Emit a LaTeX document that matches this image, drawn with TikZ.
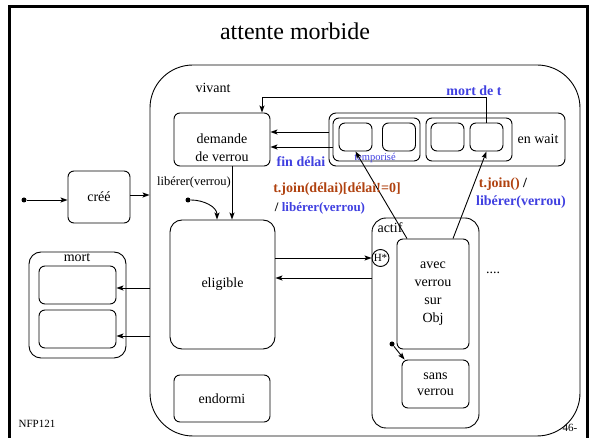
\documentclass[tikz,border=0pt]{standalone}
\usepackage{fontspec}
\setmainfont{Liberation Serif}
\usepackage{tikz}
\usetikzlibrary{arrows.meta}
\definecolor{bleuev}{RGB}{64,64,224}
\definecolor{brique}{RGB}{176,66,16}

\begin{document}
\begin{tikzpicture}[x=1pt,y=-1pt,line width=0.9pt,
  >={Stealth[length=7pt,width=5pt,inset=1.5pt]},
  etat/.style={draw,rounded corners=6pt,inner sep=0pt,align=center,font=\fontsize{14}{18}\selectfont},
  txt/.style={inner sep=0pt,font=\fontsize{14}{18}\selectfont},
  evt/.style={inner sep=0pt,font=\bfseries\fontsize{14}{17}\selectfont,text=bleuev},
  act/.style={inner sep=0pt,font=\bfseries\fontsize{14}{17}\selectfont,text=brique},
  debut/.style={circle,fill,inner sep=0pt,minimum size=5pt}]
  \useasboundingbox (0,0) rectangle (590,438);
  \draw[line width=3pt] (9,445) -- (9,7) -- (587,7) -- (587,445);
  \node[font=\fontsize{24}{28}\selectfont] (titre) at (295,31) {attente morbide};

  \node[etat,rounded corners=43pt,minimum width=430,minimum height=371] (vivant) at (365,250.5) {};
  \node[txt] (lvivant) at (213,88) {vivant};

  \node[etat,minimum width=96,minimum height=53,
    label={[txt,align=center,yshift=-8.5pt]center:demande\\de verrou}] (demande) at (222,139.5) {};
  \node[etat,rounded corners=7pt,minimum width=236,minimum height=53] (enwait) at (447,139.5) {};
  \node[etat,minimum width=87,minimum height=43] (tempo) at (376.5,139.5) {};
  \node[etat,minimum width=86,minimum height=43] (join) at (469,139.5) {};
  \node[etat,minimum width=33,minimum height=28] (t1) at (355.5,137) {};
  \node[etat,minimum width=33,minimum height=28] (t2) at (399,137) {};
  \node[etat,minimum width=33,minimum height=28] (t3) at (447.5,137) {};
  \node[etat,minimum width=33,minimum height=28] (t4) at (486.5,137) {};
  \node[txt] (lwait) at (538,139) {en wait};
  \node[inner sep=0pt,text=bleuev,font=\fontsize{10.5}{12}\selectfont] (ltempo) at (375,158) {temporisé};
  \node[evt] (lmort) at (474,91) {mort de t};
  \node[evt] (lfin) at (301,162) {fin délai};
  \draw[->] (t4.north) -- ++(0,-25) -| ([xshift=40pt]demande.north);
  \draw[->] ([yshift=7.5pt]enwait.west) -- ([yshift=7.5pt]demande.east);
  \draw[->] ([yshift=-7.5pt]tempo.west) -- ([yshift=-7.5pt]demande.east);

  \node[etat,minimum width=62,minimum height=52] (cree) at (99,197) {créé};
  \node[debut] (init1) at (24,200) {};
  \draw[->] (init1) -- (init1 -| cree.west);
  \draw[->] ([yshift=2pt]cree.east) -- ([yshift=2pt]cree.east -| vivant.west);

  \node[etat,rounded corners=12pt,minimum width=97,minimum height=106] (mort) at (77.5,305) {};
  \node[txt] (lmortbox) at (77,258) {mort};
  \node[etat,minimum width=77,minimum height=38] (mort1) at (77.5,285) {};
  \node[etat,minimum width=77,minimum height=38] (mort2) at (77.5,329) {};
  \draw[->] ([yshift=-3pt]mort1.east -| vivant.west) -- ([yshift=-3pt]mort1.east);
  \draw[->] ([yshift=-7pt]mort2.east -| vivant.west) -- ([yshift=-7pt]mort2.east);

  \node[etat,rounded corners=12pt,minimum width=105,minimum height=129] (eligible) at (222.5,284.5) {eligible};
  \draw[->] ([xshift=10pt]demande.south) -- ([xshift=10pt]demande.south |- eligible.north);
  \node[debut] (init2) at (188,200) {};
  \draw[->] (init2) to[out=0,in=90] ([xshift=-5.5pt]eligible.north);
  \node[inner sep=0pt,font=\fontsize{12.5}{14}\selectfont] (llib) at (194,182) {libérer(verrou)};
  \node[etat,minimum width=96,minimum height=47] (endormi) at (222,398.5) {endormi};

  \node[etat,rounded corners=14pt,minimum width=107,minimum height=210] (actif) at (425.5,323) {};
  \node[txt] (lactif) at (390,228) {actif};
  \node[draw,circle,inner sep=0pt,minimum size=17pt,font=\fontsize{11}{12}\selectfont] (hist) at (380.5,258) {H*};
  \node[etat,minimum width=72,minimum height=110] (avec) at (433,294) {avec\\verrou\\sur\\Obj};
  \node[etat,minimum width=67,minimum height=48,font=\fontsize{14}{16}\selectfont] (sans) at (435.5,384) {sans\\verrou};
  \node[debut] (init3) at (392,344) {};
  \draw[->] (init3) -- ([xshift=3pt]sans.north west);
  \node[txt] (lsuite) at (493,273) {....};
  \draw[->] (hist.west -| eligible.east) -- (hist.west);
  \draw[->] ([yshift=-20pt]hist.west -| actif.west) -- ([yshift=-20pt]hist.west -| eligible.east);
  \draw[->] ([xshift=-26pt]avec.north) -- (t1.south);
  \draw[->] ([xshift=20pt]avec.north) -- (t4.south);

  \node[act] (ljoin1) at (337,189) {t.join(délai)[délai!=0]};
  \node[inner sep=0pt,font=\bfseries\fontsize{13}{16}\selectfont] (llib1) at (320,208) {/ \textcolor{bleuev}{libérer(verrou)}};
  \node[act] (ljoin2) at (503,184) {t.join() \textcolor{black}{/}};
  \node[evt] (llib2) at (521,202) {libérer(verrou)};

  \node[inner sep=0pt,font=\fontsize{11}{12}\selectfont] (lcours) at (37,424) {NFP121};
  \node[inner sep=0pt,font=\fontsize{11}{12}\selectfont] (lpage) at (570,428) {46-};
\end{tikzpicture}
\end{document}
